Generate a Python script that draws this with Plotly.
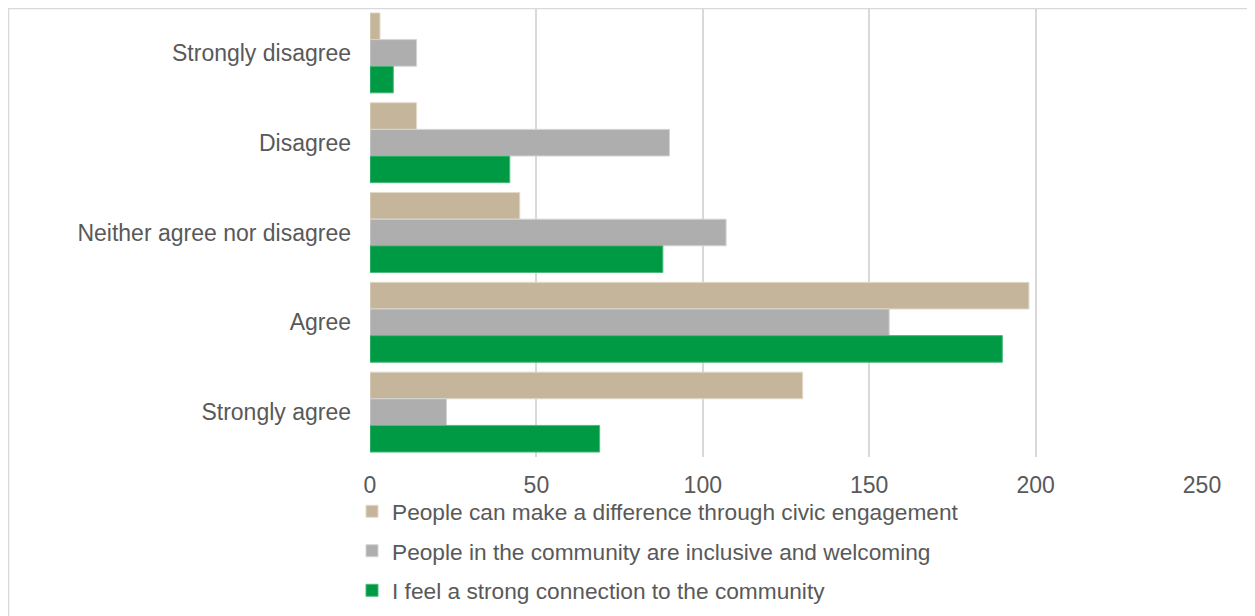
import plotly.graph_objects as go

categories = ["Strongly disagree", "Disagree", "Neither agree nor disagree", "Agree", "Strongly agree"]
series_names = [
    "People can make a difference through civic engagement",
    "People in the community are inclusive and welcoming",
    "I feel a strong connection to the community",
]
civic_engagement = [3, 14, 45, 198, 130]
inclusive_welcoming = [14, 90, 107, 156, 23]
strong_connection = [7, 42, 88, 190, 69]
x_ticks = [0, 50, 100, 150, 200, 250]

colors = ["#C4B59B", "#AEAEAE", "#009A44"]
outlines = ["#E2D9C9", "#D4D4D4", "#4DBA7E"]
values = [civic_engagement, inclusive_welcoming, strong_connection]

fig = go.Figure()
for name, vals, c, oc in zip(series_names, values, colors, outlines):
    fig.add_trace(go.Bar(
        y=categories, x=vals, name=name, orientation="h",
        marker=dict(color=c, line=dict(color=oc, width=1)),
        legendgroup=name,
    ))

OFF = 8  # page body margin
W, H = 1255 - OFF, 616 - OFF
# plot area in page coordinates
PL, PR, PT, PB = 370, 1202, 8, 457
L, R, T, B = PL - OFF, (1255 - PR), PT - OFF, (616 - PB)
pw, ph = W - L - R, H - T - B

def px(x):
    return (x - OFF - L) / pw

def py(y):
    return (H - B - (y - OFF)) / ph

fig.add_shape(type="rect", xref="paper", yref="paper",
              x0=px(8.5), x1=px(1300), y0=py(700), y1=py(8.5),
              fillcolor="white", line=dict(color="#D9D9D9", width=1.5), layer="below")

FS = 23
fig.update_layout(
    width=W, height=H,
    margin=dict(l=L, r=R, t=T, b=B, autoexpand=False),
    barmode="group", bargap=0.11, bargroupgap=0,
    paper_bgcolor="white", plot_bgcolor="rgba(0,0,0,0)",
    font=dict(family="Liberation Sans, Arial, sans-serif", size=FS, color="#595959"),
    showlegend=True,
    legend=dict(x=px(352), y=py(490), xanchor="left", yanchor="top",
                orientation="v", traceorder="grouped", tracegroupgap=7,
                font=dict(size=22.7, color="#595959"), bgcolor="rgba(0,0,0,0)",
                itemwidth=30),
    xaxis=dict(range=[0, 250], tickvals=x_ticks, showgrid=True, gridcolor="#D9D9D9",
               gridwidth=1.5, zeroline=False, showline=False, ticks="",
               ticklabelstandoff=12, tickfont=dict(size=FS, color="#595959"),
               fixedrange=True),
    yaxis=dict(autorange="reversed", showgrid=False, zeroline=False, showline=False,
               ticks="", ticklabelstandoff=18, tickfont=dict(size=FS, color="#595959"),
               fixedrange=True),
)

fig.write_html("out.html")
